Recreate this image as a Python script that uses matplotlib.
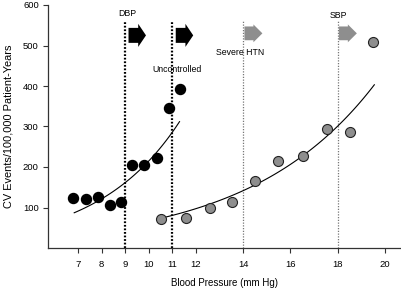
import numpy as np
import matplotlib
matplotlib.use("Agg")
import matplotlib.pyplot as plt
from matplotlib.patches import FancyArrow

plt.rcParams['font.family'] = ['Liberation Sans', 'DejaVu Sans']

# Diastolic BP group (black)
dbp_x = [6.77, 7.35, 7.83, 8.34, 8.82, 9.30, 9.80, 10.35, 10.87, 11.30]
dbp_y = [124, 122, 127, 107, 114, 204, 205, 222, 345, 393]
# Systolic BP group (gray, x in mm Hg / 10)
sbp_x = [10.50, 11.59, 12.60, 13.53, 14.51, 15.46, 16.52, 17.55, 18.50, 19.50]
sbp_y = [72, 75, 99, 114, 166, 216, 227, 295, 287, 509]

# exponential trend lines (start/end)
dbp_trend_x = [6.84, 11.30]
dbp_trend_y = [87, 312]
sbp_trend_x = [10.69, 19.55]
sbp_trend_y = [76, 403]

dbp_thresholds = [9, 11]
sbp_thresholds = [14, 18]
threshold_labels = ["DBP", "Uncontrolled", "Severe HTN", "SBP"]

xticks = [7, 8, 9, 10, 11, 12, 14, 16, 18, 20]
yticks = [100, 200, 300, 400, 500, 600]

W, H = 402, 289
fig = plt.figure(figsize=(W / 100, H / 100), dpi=100)
ax = fig.add_axes([48 / W, 1 - 248 / H, (401 - 48) / W, (248 - 5) / H])

ax.set_xlim(5.73, 20.68)
ax.set_ylim(0, 600)

def exp_curve(xs, ys):
    t = np.linspace(0, 1, 100)
    x = xs[0] + (xs[1] - xs[0]) * t
    y = ys[0] * (ys[1] / ys[0]) ** t
    return x, y

gray = '#8e8e8e'
# threshold lines
for t in dbp_thresholds:
    ax.plot([t, t], [0, 560], color='black', lw=1.6, ls=(0, (0.8, 0.8)), zorder=1)
for t in sbp_thresholds:
    ax.plot([t, t], [0, 560], color='#777777', lw=0.9, ls=(0, (1, 1.2)), zorder=1)

# arrows
for t in dbp_thresholds:
    ax.add_patch(FancyArrow(t + 0.14, 525, 0.74, 0, width=37, head_width=57,
                            head_length=0.33, length_includes_head=True,
                            color='black', lw=0))
for t in sbp_thresholds:
    ax.add_patch(FancyArrow(t + 0.05, 530, 0.76, 0, width=34, head_width=44,
                            head_length=0.38, length_includes_head=True,
                            color=gray, lw=0))

# trend lines
x1, y1 = exp_curve(dbp_trend_x, dbp_trend_y)
ax.plot(x1, y1, color='black', lw=0.8, zorder=2)
x2, y2 = exp_curve(sbp_trend_x, sbp_trend_y)
ax.plot(x2, y2, color='black', lw=0.8, zorder=2)

# points
ax.scatter(dbp_x, dbp_y, s=52, color='black', zorder=3)
ax.scatter(sbp_x, sbp_y, s=52, color=gray, edgecolors='#222222', linewidths=0.8, zorder=3)

# labels
fs = 6.3
ax.text(9.1, 578, threshold_labels[0], ha='center', va='center', fontsize=fs)
ax.text(11.2, 440, threshold_labels[1], ha='center', va='center', fontsize=fs)
ax.text(13.88, 483, threshold_labels[2], ha='center', va='center', fontsize=fs)
ax.text(18.03, 574, threshold_labels[3], ha='center', va='center', fontsize=fs)

ax.set_xticks(xticks)
ax.set_xticklabels([str(v) for v in xticks])
ax.set_yticks(yticks)
ax.tick_params(axis='both', labelsize=6.8, length=3.6, width=0.8, color='#333333')
ax.tick_params(axis='x', pad=5)
ax.tick_params(axis='y', pad=3)
for s in ['top', 'right']:
    ax.spines[s].set_visible(False)
for s in ['left', 'bottom']:
    ax.spines[s].set_linewidth(0.9)
    ax.spines[s].set_color('#333333')

ax.set_xlabel('Blood Pressure (mm Hg)', fontsize=7, labelpad=6.5)
ax.set_ylabel('CV Events/100,000 Patient-Years', fontsize=7.9, labelpad=7)

fig.savefig('out.png', dpi=100)
